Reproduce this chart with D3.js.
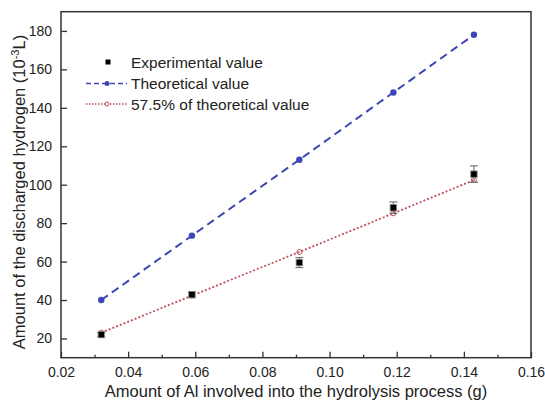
<!DOCTYPE html>
<html>
<head>
<meta charset="utf-8">
<script src="https://cdn.jsdelivr.net/npm/d3@7"></script>
<style>
  body { margin: 0; background: #fff; }
  text { font-family: "Liberation Sans", Arial, sans-serif; fill: #222; }
</style>
</head>
<body>
<div id="main"></div>
<script>
// data
var alAmount = [0.032, 0.059, 0.091, 0.119, 0.143];
var theoretical = [40, 73.5, 113, 148, 178];
var partial = [23, 42.3, 65, 85.1, 102.4];   // 57.5% of theoretical
var experimental = [22, 42.8, 59.5, 88, 105.5];
var expError = [1, 1.5, 2.6, 3, 4.3];
var xTicks = [0.02, 0.04, 0.06, 0.08, 0.10, 0.12, 0.14, 0.16];
var yTicks = [20, 40, 60, 80, 100, 120, 140, 160, 180];
var legendLabels = ["Experimental value", "Theoretical value", "57.5% of theoretical value"];

var w = 545, h = 406;
var pLeft = 61, pRight = 531, pTop = 11.7, pBottom = 357.7;

var svg = d3.select("#main").append("svg")
    .attr("width", w)
    .attr("height", h);

var x = d3.scaleLinear().domain([0.02, 0.16]).range([pLeft, pRight]);
var y = d3.scaleLinear().domain([10, 190]).range([pBottom, pTop]);

var blue = "#3d46b4";
var red = "#c0505a";

// frame
svg.append("rect")
    .attr("x", pLeft).attr("y", pTop)
    .attr("width", pRight - pLeft).attr("height", pBottom - pTop)
    .attr("fill", "none").attr("stroke", "#333").attr("stroke-width", 1.5);

// x axis, ticks inward
svg.append("g")
    .attr("transform", "translate(0," + pBottom + ")")
    .call(d3.axisBottom(x).tickValues(xTicks).tickSize(-6).tickPadding(9)
        .tickFormat(d3.format(".2f")));
svg.append("g")
    .attr("transform", "translate(0," + pBottom + ")")
    .call(d3.axisBottom(x).tickValues(d3.range(0.03, 0.16, 0.02)).tickSize(-3).tickFormat(""));

svg.append("g")
    .attr("transform", "translate(" + pLeft + ",0)")
    .call(d3.axisLeft(y).tickValues(yTicks).tickSize(-6).tickPadding(9));

svg.selectAll(".domain").remove();
svg.selectAll(".tick line").attr("stroke", "#333").attr("stroke-width", 1.3);
svg.selectAll(".tick text").attr("font-size", 14).attr("fill", "#222")
    .attr("font-family", "Liberation Sans, Arial, sans-serif");

// axis titles
svg.append("text")
    .attr("x", 296).attr("y", 397)
    .attr("text-anchor", "middle").attr("font-size", 16.5)
    .text("Amount of Al involved into the hydrolysis process (g)");

var yt = svg.append("text")
    .attr("transform", "translate(25,192) rotate(-90)")
    .attr("text-anchor", "middle").attr("font-size", 16.5);
yt.append("tspan").text("Amount of the discharged hydrogen (10");
yt.append("tspan").attr("dy", -6).attr("font-size", 11).text("-3");
yt.append("tspan").attr("dy", 6).text("L)");

// lines
var line = d3.line()
    .x(function(d, i) { return x(alAmount[i]); })
    .y(function(d) { return y(d); });

svg.append("path")
    .attr("d", line(theoretical))
    .attr("fill", "none").attr("stroke", blue)
    .attr("stroke-width", 2).attr("stroke-dasharray", "8,5");

svg.append("path")
    .attr("d", line(partial))
    .attr("fill", "none").attr("stroke", red)
    .attr("stroke-width", 1.8).attr("stroke-dasharray", "2,2");

svg.selectAll(".theo")
    .data(theoretical)
    .enter()
    .append("circle")
    .attr("cx", function(d, i) { return x(alAmount[i]); })
    .attr("cy", function(d) { return y(d); })
    .attr("r", 3.2)
    .attr("fill", blue);

svg.selectAll(".part")
    .data(partial)
    .enter()
    .append("circle")
    .attr("cx", function(d, i) { return x(alAmount[i]); })
    .attr("cy", function(d) { return y(d); })
    .attr("r", 2.5)
    .attr("fill", "none").attr("stroke", red).attr("stroke-width", 1);

// error bars
var eb = svg.selectAll(".err")
    .data(experimental)
    .enter()
    .append("g")
    .attr("stroke", "#777").attr("stroke-width", 1.2);
eb.append("line")
    .attr("x1", function(d, i) { return x(alAmount[i]); })
    .attr("x2", function(d, i) { return x(alAmount[i]); })
    .attr("y1", function(d, i) { return y(d - expError[i]); })
    .attr("y2", function(d, i) { return y(d + expError[i]); });
[-1, 1].forEach(function(s) {
    eb.append("line")
        .attr("x1", function(d, i) { return x(alAmount[i]) - 4; })
        .attr("x2", function(d, i) { return x(alAmount[i]) + 4; })
        .attr("y1", function(d, i) { return y(d + s * expError[i]); })
        .attr("y2", function(d, i) { return y(d + s * expError[i]); });
});

svg.selectAll(".exp")
    .data(experimental)
    .enter()
    .append("rect")
    .attr("x", function(d, i) { return x(alAmount[i]) - 3.2; })
    .attr("y", function(d) { return y(d) - 3.2; })
    .attr("width", 6.4).attr("height", 6.4)
    .attr("fill", "#000").attr("stroke", "#888").attr("stroke-width", 0.8);

// legend
var lg = svg.append("g");
var rows = [62, 83.5, 104];
lg.append("rect").attr("x", 105.5).attr("y", rows[0] - 2.5).attr("width", 5).attr("height", 5).attr("fill", "#000");
lg.append("line").attr("x1", 86).attr("x2", 127).attr("y1", rows[1]).attr("y2", rows[1])
    .attr("stroke", blue).attr("stroke-width", 1.5).attr("stroke-dasharray", "5,3");
lg.append("circle").attr("cx", 107).attr("cy", rows[1]).attr("r", 2.5).attr("fill", blue);
lg.append("line").attr("x1", 86).attr("x2", 127).attr("y1", rows[2]).attr("y2", rows[2])
    .attr("stroke", red).attr("stroke-width", 1.3).attr("stroke-dasharray", "1.5,1.5");
lg.append("circle").attr("cx", 107).attr("cy", rows[2]).attr("r", 2).attr("fill", "#fff")
    .attr("stroke", red).attr("stroke-width", 1);
lg.selectAll(".lt")
    .data(legendLabels)
    .enter()
    .append("text")
    .attr("x", 131)
    .attr("y", function(d, i) { return rows[i] + 5.5; })
    .attr("font-size", 15.5)
    .text(function(d) { return d; });
</script>
</body>
</html>
